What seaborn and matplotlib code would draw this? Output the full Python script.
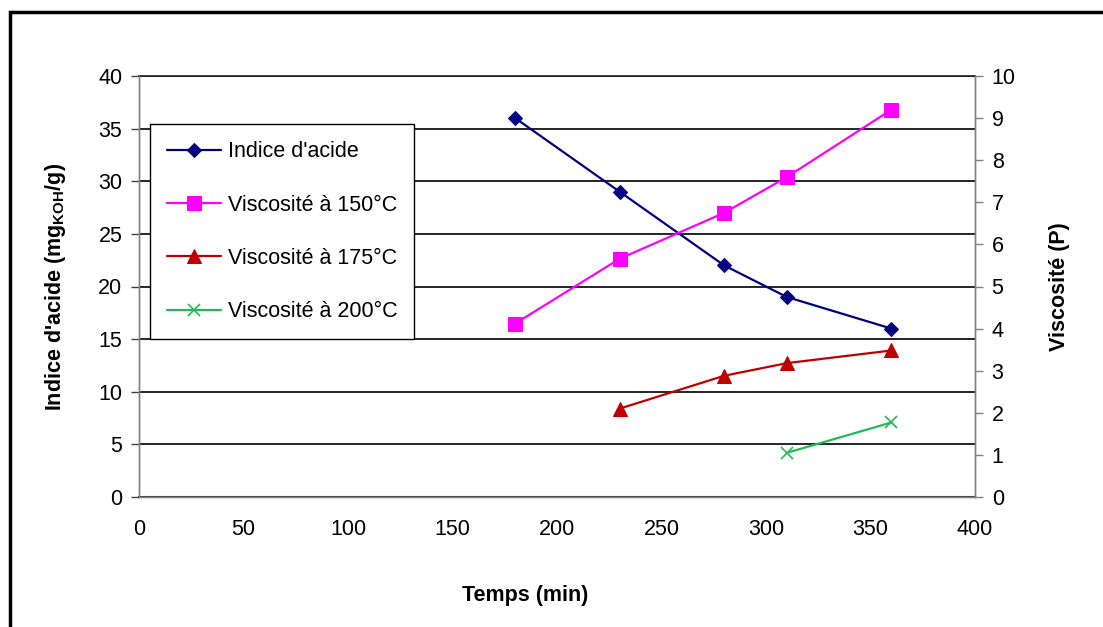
import matplotlib
matplotlib.use("Agg")
import matplotlib.pyplot as plt
import seaborn as sns
import pandas as pd
from matplotlib.patches import Rectangle

sns.set_style("white")
plt.rcParams['font.family'] = ['Liberation Sans', 'DejaVu Sans']
plt.rcParams['mathtext.fontset'] = 'custom'
plt.rcParams['mathtext.rm'] = 'Liberation Sans'
plt.rcParams['mathtext.bf'] = 'Liberation Sans:bold'
plt.rcParams['text.color'] = 'black'
plt.rcParams['axes.labelcolor'] = 'black'

# Data
temps_acide = [180, 230, 280, 310, 360]
indice_acide = [36, 29, 22, 19, 16]
temps_150 = [180, 230, 280, 310, 360]
visc_150 = [4.12, 5.66, 6.75, 7.6, 9.2]
temps_175 = [230, 280, 310, 360]
visc_175 = [2.1, 2.88, 3.18, 3.48]
temps_200 = [310, 360]
visc_200 = [1.05, 1.77]

labels = ["Indice d'acide", "Viscosité à 150°C", "Viscosité à 175°C", "Viscosité à 200°C"]
colors = ["#000080", "#FF00FF", "#C00000", "#22BB55"]

fig = plt.figure(figsize=(11.03, 6.27), dpi=100)
ax = fig.add_axes([139/1103, 1-497/627, (975-139)/1103, (497-76)/627])
ax2 = ax.twinx()

# outer frame
fig.patches.append(Rectangle((10/1103, -0.1), 1.2, 1-12/627+0.1, transform=fig.transFigure,
                             fill=False, edgecolor='black', linewidth=2.5))

sns.lineplot(x=temps_acide, y=indice_acide, ax=ax, color=colors[0], marker='D',
             markersize=7, markeredgecolor=colors[0], linewidth=1.6, label=labels[0], legend=False)
sns.lineplot(x=temps_150, y=visc_150, ax=ax2, color=colors[1], marker='s',
             markersize=10, markeredgecolor=colors[1], linewidth=1.6, label=labels[1], legend=False)
sns.lineplot(x=temps_175, y=visc_175, ax=ax2, color=colors[2], marker='^',
             markersize=10, markeredgecolor=colors[2], linewidth=1.6, label=labels[2], legend=False)
sns.lineplot(x=temps_200, y=visc_200, ax=ax2, color=colors[3], marker='x',
             markersize=9, markeredgecolor=colors[3], markeredgewidth=1.2, linewidth=1.6,
             label=labels[3], legend=False)

ax.set_xlim(0, 400)
ax.set_ylim(0, 40)
ax2.set_ylim(0, 10)
ax.set_xticks(range(0, 401, 50))
ax.set_yticks(range(0, 41, 5))
ax2.set_yticks(range(0, 11, 1))

ax.yaxis.grid(True, color='black', linewidth=1.2)
ax.set_axisbelow(True)
for a in (ax, ax2):
    for s in a.spines.values():
        s.set_color('#808080')
        s.set_linewidth(1.0)
ax2.spines['top'].set_visible(False)
ax.spines['top'].set_color('#202020')
ax.spines['top'].set_linewidth(1.2)
ax.spines['bottom'].set_color('#404040')
ax.spines['bottom'].set_linewidth(1.5)

ax.tick_params(axis='both', labelsize=15.5, labelcolor='black', length=6, width=1,
               direction='out', pad=6)
ax.tick_params(axis='x', color='#404040', pad=10)
ax.tick_params(axis='y', color='#404040')
ax2.tick_params(axis='y', labelsize=15.5, labelcolor='black', length=6, width=1,
                direction='out', pad=6)
ax2.tick_params(axis='y', color='#808080')

ax.set_xlabel("Temps (min)", fontsize=15.5, fontweight='bold')
ax.set_ylabel(r"Indice d'acide (mg$_{\mathbf{KOH}}$/g)", fontsize=15.5, fontweight='bold')
ax2.set_ylabel("Viscosité (P)", fontsize=15.5, fontweight='bold')
ax.xaxis.set_label_coords(0.462, -0.21)
ax.yaxis.set_label_coords(-0.085, 0.5)
ax2.yaxis.set_label_coords(1.088, 0.5)

h1, l1 = ax.get_legend_handles_labels()
h2, l2 = ax2.get_legend_handles_labels()
leg = ax2.legend(h1 + h2, l1 + l2, loc='upper left',
                 bbox_to_anchor=((150-139)/836, (497-124)/421), fontsize=15.5,
                 frameon=True, fancybox=False, edgecolor='black', framealpha=1,
                 labelspacing=1.5, handlelength=2.5, borderpad=0.8,
                 borderaxespad=0, handletextpad=0.3)
leg.get_frame().set_linewidth(1.0)

fig.savefig("out.png", dpi=100)
